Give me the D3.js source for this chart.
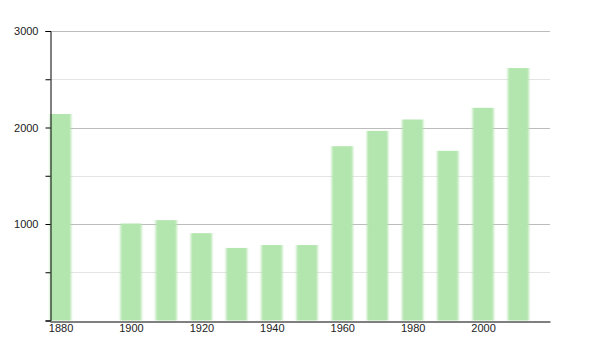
<!DOCTYPE html>
<html lang="en">
<head>
    <meta charset="UTF-8">
    <title>Population</title>
    <style>
        body { margin: 0; background: #fff; }
        #chart { font-family: "Liberation Sans", Arial, sans-serif; }
        .bar { fill: #b3e5ae; }
        .grid-major { stroke: #bcbcbc; }
        .grid-minor { stroke: #e4e4e4; }
        .axis text { font-size: 11px; fill: #222; }
    </style>
</head>
<body>
    <div id="chart"></div>
    <script src="https://d3js.org/d3.v7.min.js"></script>
    <script>
const years = [1880, 1900, 1910, 1920, 1930, 1940, 1950, 1960, 1970, 1980, 1990, 2000, 2010];
const values = [2140, 1005, 1040, 905, 752, 782, 782, 1806, 1965, 2083, 1758, 2204, 2616];
const xTicks = [1880, 1900, 1920, 1940, 1960, 1980, 2000];
const yTicks = [1000, 2000, 3000];
const yMinor = [500, 1500, 2500];

const width = 600, height = 350;
const margin = {top: 31, right: 50, bottom: 30, left: 50};

const svg = d3.select("#chart")
    .append("svg")
    .attr("width", width)
    .attr("height", height);

const defs = svg.append("defs");
defs.append("filter")
    .attr("id", "soft")
    .attr("x", "-20%").attr("width", "140%")
    .append("feGaussianBlur")
    .attr("stdDeviation", "0.9 0");

const xScale = d3.scaleLinear()
    .domain([1877, 2019])
    .range([margin.left, width - margin.right]);

const yScale = d3.scaleLinear()
    .domain([0, 3000])
    .range([height - margin.bottom + 0.5, margin.top]);

// gridlines
svg.append("g").selectAll("line")
    .data(yMinor)
    .enter().append("line")
    .attr("class", "grid-minor")
    .attr("x1", margin.left).attr("x2", width - margin.right)
    .attr("y1", d => Math.round(yScale(d)) + 0.5)
    .attr("y2", d => Math.round(yScale(d)) + 0.5);

svg.append("g").selectAll("line")
    .data(yTicks)
    .enter().append("line")
    .attr("class", "grid-major")
    .attr("x1", margin.left).attr("x2", width - margin.right)
    .attr("y1", d => Math.round(yScale(d)) + 0.5)
    .attr("y2", d => Math.round(yScale(d)) + 0.5);

// bars
const barW = 6; // years
svg.append("g")
    .attr("filter", "url(#soft)")
    .selectAll(".bar")
    .data(years.map((y, i) => ({year: y, value: values[i]})))
    .enter().append("rect")
    .attr("class", "bar")
    .attr("x", d => xScale(d.year - barW / 2))
    .attr("width", xScale(barW) - xScale(0))
    .attr("y", d => yScale(d.value))
    .attr("height", d => yScale(0) - yScale(d.value));

// y axis
const yAxis = svg.append("g")
    .attr("class", "axis")
    .attr("transform", "translate(" + (margin.left + 0.5) + ",0)")
    .call(d3.axisLeft(yScale)
        .tickValues([0, 500, 1000, 1500, 2000, 2500, 3000])
        .tickSize(5)
        .tickPadding(7)
        .tickFormat(d => yTicks.includes(d) ? d : ""));
yAxis.select(".domain").attr("stroke", "#000");
yAxis.selectAll(".tick line").attr("stroke", "#000");

// x axis
const xAxis = svg.append("g")
    .attr("class", "axis")
    .attr("transform", "translate(0," + (Math.round(yScale(0)) + 0.5) + ")")
    .call(d3.axisBottom(xScale)
        .tickValues(xTicks)
        .tickSize(0)
        .tickPadding(3)
        .tickFormat(d3.format("d")));
xAxis.select(".domain").attr("stroke", "#000");
    </script>
</body>
</html>
